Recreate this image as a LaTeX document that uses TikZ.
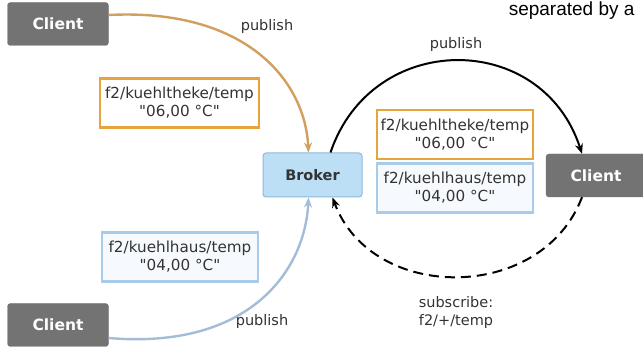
\documentclass[tikz,border=0pt]{standalone}
\usepackage{fontspec}
\setmainfont{DejaVu Sans}
\newfontfamily\headfont{Liberation Sans}
\usetikzlibrary{arrows.meta}
\definecolor{clientgray}{HTML}{737373}
\definecolor{brokerfill}{HTML}{BCDFF6}
\definecolor{brokerline}{HTML}{8FB9DA}
\definecolor{msgorange}{HTML}{E8A43C}
\definecolor{msgblue}{HTML}{A9CBEA}
\definecolor{msgbluefill}{HTML}{F6FAFE}
\definecolor{pubtan}{HTML}{D1A05E}
\definecolor{pubblue}{HTML}{A3BCD8}
\definecolor{txt}{HTML}{333333}
\newcommand{\qq}[1]{\textquotedbl#1\textquotedbl}
\tikzset{
  clientbox/.style={draw=clientgray, fill=clientgray, rounded corners=3pt,
    minimum width=101pt, minimum height=43pt, inner sep=0pt,
    text=white, font=\fontsize{15.5}{18}\selectfont\bfseries},
  brokerbox/.style={draw=brokerline, fill=brokerfill, rounded corners=3pt,
    minimum width=99pt, minimum height=44pt, inner sep=0pt, line width=1pt,
    text=txt, font=\fontsize{14.5}{18}\selectfont\bfseries},
  msgbox/.style={minimum width=156pt, minimum height=49pt, inner sep=0pt,
    align=center, text=txt, line width=2.4pt,
    font=\fontsize{15.2}{18}\selectfont},
  orangemsg/.style={msgbox, draw=msgorange, fill=white},
  bluemsg/.style={msgbox, draw=msgblue, fill=msgbluefill},
  lbl/.style={text=txt, align=center, font=\fontsize{14.5}{18}\selectfont},
  pubtip/.style={-{Stealth[length=10pt,width=8pt]}},
}
\begin{document}
\begin{tikzpicture}[x=1pt,y=-1pt]
\useasboundingbox (0,0) rectangle (643,347);
% participants
\node[clientbox] (c1) at (58,24) {Client};
\node[clientbox] (c2) at (58,325) {Client};
\node[brokerbox] (broker) at (312.5,175) {Broker};
\node[clientbox, minimum width=100pt] (c3) at (596,175.5) {Client};
% messages
\node[orangemsg, minimum width=159pt] (m1) at (179.5,103) {f2/kuehltheke/temp\\\qq{06,00 °C}};
\node[bluemsg] (m2) at (180,257) {f2/kuehlhaus/temp\\\qq{04,00 °C}};
\node[orangemsg] (m3) at (455,134.5) {f2/kuehltheke/temp\\\qq{06,00 °C}};
\node[bluemsg] (m4) at (455,188) {f2/kuehlhaus/temp\\\qq{04,00 °C}};
% publish / subscribe flows
\draw[pubtip, draw=pubtan, line width=2.4pt]
  ([yshift=9pt]c1.east) .. controls (245,8) and (305,80) .. ([xshift=-4pt]broker.north);
\draw[pubtip, draw=pubblue, line width=2.4pt]
  ([yshift=-13pt]c2.east) .. controls (250,350) and (305,270) .. ([xshift=-4pt]broker.south);
\draw[pubtip, black, line width=2pt]
  ([xshift=18pt]broker.north) .. controls (372,30) and (542,30) .. ([xshift=-14pt]c3.north);
\draw[pubtip, black, line width=2pt, dash pattern=on 10pt off 6pt]
  ([xshift=-14pt]c3.south) .. controls (542,303) and (372,303) .. ([xshift=20pt]broker.south);
% labels
\node[lbl] (p1) at (267,27) {publish};
\node[lbl] (p2) at (456,45) {publish};
\node[lbl] (p3) at (262,322) {publish};
\node[lbl] (sub) at (456,313) {subscribe:\\f2/+/temp};
\node[anchor=base east, font=\headfont\fontsize{19}{22}\selectfont] (head) at (638,16) {separated by a};
\end{tikzpicture}
\end{document}
